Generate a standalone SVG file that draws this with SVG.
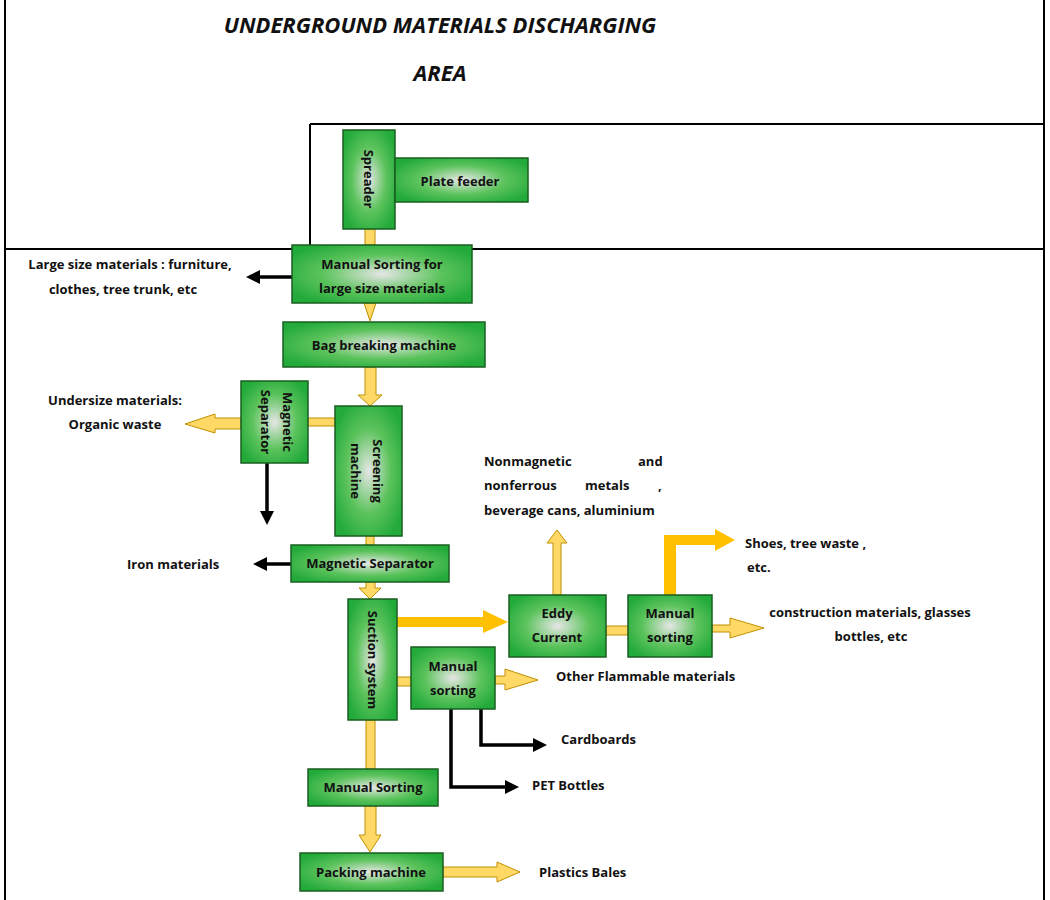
<svg xmlns="http://www.w3.org/2000/svg" width="1050" height="900" viewBox="0 0 1050 900">
<defs>
<radialGradient id="g" cx="50%" cy="50%" r="60%">
<stop offset="0" stop-color="#e6e6e6"/><stop offset="0.55" stop-color="#5cc35c"/><stop offset="1" stop-color="#22aa3a"/>
</radialGradient>
<marker id="bk" markerWidth="4" markerHeight="4" refX="2" refY="2" orient="auto" markerUnits="strokeWidth"><path d="M0,0 L4,2 L0,4 Z" fill="#000"/></marker>
</defs>
<style>
.n{fill:url(#g);stroke:#1a5e20;stroke-width:1.5}
.t{font-family:"Open Sans","Liberation Sans",sans-serif;font-weight:bold;font-size:13px;fill:#111;text-anchor:middle}
.l{font-family:"Open Sans","Liberation Sans",sans-serif;font-weight:bold;font-size:13px;fill:#111}
.y{fill:#FFD966;stroke:#BF9000;stroke-width:1}
.o{fill:#FFC000;stroke:none}
.b{stroke:#000;stroke-width:3.5;fill:none}
.f{stroke:#000;stroke-width:2;fill:none}
.h{font-family:"Open Sans","Liberation Sans",sans-serif;font-weight:bold;font-style:italic;font-size:22px;fill:#111;text-anchor:middle}
</style>
<rect width="1050" height="900" fill="#fff"/>
<g id="frame">
<line class="f" x1="5" y1="0" x2="5" y2="900"/>
<line class="f" x1="1044" y1="0" x2="1044" y2="900"/>
<line class="f" x1="5" y1="249" x2="1044" y2="249"/>
<line class="f" x1="310" y1="124" x2="310" y2="249"/>
<line class="f" x1="310" y1="124" x2="1044" y2="124"/>
<text class="h" x="440" y="33">UNDERGROUND MATERIALS DISCHARGING</text>
<text class="h" x="440" y="81">AREA</text>
</g>
<g id="connectors">
<rect class="y" x="365" y="229" width="10" height="16"/>
<path class="y" d="M364,303 L376,303 L370,321 Z"/>
<path class="y" d="M365,367 H376 V395 H382 L370,406 L358,395 H365 Z"/>
<rect class="y" x="308" y="418" width="27" height="8"/>
<path class="y" d="M241,418 V429 H215 V433 L185,424 L215,414 V418 Z"/>
<line class="b" x1="267" y1="463" x2="267" y2="518" marker-end="url(#bk)"/>
<rect class="y" x="366" y="536" width="8" height="9"/>
<line class="b" x1="291" y1="564" x2="260" y2="564" marker-end="url(#bk)"/>
<line class="b" x1="292" y1="277" x2="253" y2="277" marker-end="url(#bk)"/>
<path class="y" d="M366,582 H375 V588 H381 L370,599 L359,588 H366 Z"/>
<path class="o" d="M397,617 H483 V610 L508,622 L483,633 V627 H397 Z"/>
<path class="y" d="M553,595 V543 H547 L557,530 L567,543 H561 V595 Z"/>
<rect class="y" x="606" y="626" width="22" height="9"/>
<path class="y" d="M712,625 H730 V618 L764,628 L730,638 V632 H712 Z"/>
<path class="o" d="M664,595 V535 H715 V529 L735,540 L715,551 V545 H676 V595 Z"/>
<rect class="y" x="397" y="677" width="14" height="9"/>
<path class="y" d="M495,676 H505 V669 L538,680 L505,690 V684 H495 Z"/>
<path class="b" d="M451,709 V787 H512" marker-end="url(#bk)"/>
<path class="b" d="M481,709 V745 H540" marker-end="url(#bk)"/>
<rect class="y" x="366" y="720" width="9" height="49"/>
<path class="y" d="M365,806 H376 V835 H381 L370,852 L359,835 H365 Z"/>
<path class="y" d="M443,867 H497 V862 L520,872 L497,882 V877 H443 Z"/>
</g>
<g id="spreader"><rect class="n" x="343" y="130" width="52" height="99"/><text class="t" transform="translate(364,179) rotate(90)">Spreader</text></g>
<g id="plate"><rect class="n" x="395" y="158" width="133" height="44"/><text class="t" x="460" y="186">Plate feeder</text></g>
<g id="msl"><rect class="n" x="292" y="245" width="180" height="58"/><text class="t" x="382" y="269">Manual Sorting for</text><text class="t" x="382" y="293">large size materials</text></g>
<g id="bag"><rect class="n" x="283" y="322" width="202" height="45"/><text class="t" x="384" y="350">Bag breaking machine</text></g>
<g id="magv"><rect class="n" x="241" y="381" width="67" height="82"/><text class="t" transform="translate(283,422) rotate(90)">Magnetic</text><text class="t" transform="translate(261,422) rotate(90)">Separator</text></g>
<g id="screen"><rect class="n" x="335" y="406" width="67" height="130"/><text class="t" transform="translate(373,471) rotate(90)">Screening</text><text class="t" transform="translate(351,471) rotate(90)">machine</text></g>
<g id="magh"><rect class="n" x="291" y="545" width="158" height="37"/><text class="t" x="370" y="568">Magnetic Separator</text></g>
<g id="suction"><rect class="n" x="348" y="599" width="49" height="121"/><text class="t" transform="translate(368,660) rotate(90)">Suction system</text></g>
<g id="eddy"><rect class="n" x="509" y="595" width="97" height="62"/><text class="t" x="557" y="618">Eddy</text><text class="t" x="557" y="642">Current</text></g>
<g id="msr"><rect class="n" x="628" y="595" width="84" height="62"/><text class="t" x="670" y="618">Manual</text><text class="t" x="670" y="642">sorting</text></g>
<g id="msm"><rect class="n" x="411" y="647" width="84" height="62"/><text class="t" x="453" y="671">Manual</text><text class="t" x="453" y="695">sorting</text></g>
<g id="msb"><rect class="n" x="308" y="769" width="130" height="37"/><text class="t" x="373" y="792">Manual Sorting</text></g>
<g id="pack"><rect class="n" x="300" y="853" width="143" height="38"/><text class="t" x="371" y="877">Packing machine</text></g>
<g id="labels">
<text class="t" x="130" y="269">Large size materials : furniture,</text>
<text class="t" x="123" y="294">clothes, tree trunk, etc</text>
<text class="t" x="115" y="405">Undersize materials:</text>
<text class="t" x="115" y="429">Organic waste</text>
<text class="l" x="127" y="569">Iron materials</text>
<text class="l" x="484" y="466">Nonmagnetic</text><text class="l" x="638" y="466">and</text>
<text class="l" x="484" y="490">nonferrous</text><text class="l" x="585" y="490">metals</text><text class="l" x="658" y="490">,</text>
<text class="l" x="484" y="515">beverage cans, aluminium</text>
<text class="l" x="745" y="548">Shoes, tree waste ,</text>
<text class="l" x="747" y="572">etc.</text>
<text class="t" x="870" y="617">construction materials, glasses</text>
<text class="t" x="871" y="641">bottles, etc</text>
<text class="l" x="556" y="681">Other Flammable materials</text>
<text class="l" x="561" y="744">Cardboards</text>
<text class="l" x="532" y="790">PET Bottles</text>
<text class="l" x="539" y="877">Plastics Bales</text>
</g>
</svg>
